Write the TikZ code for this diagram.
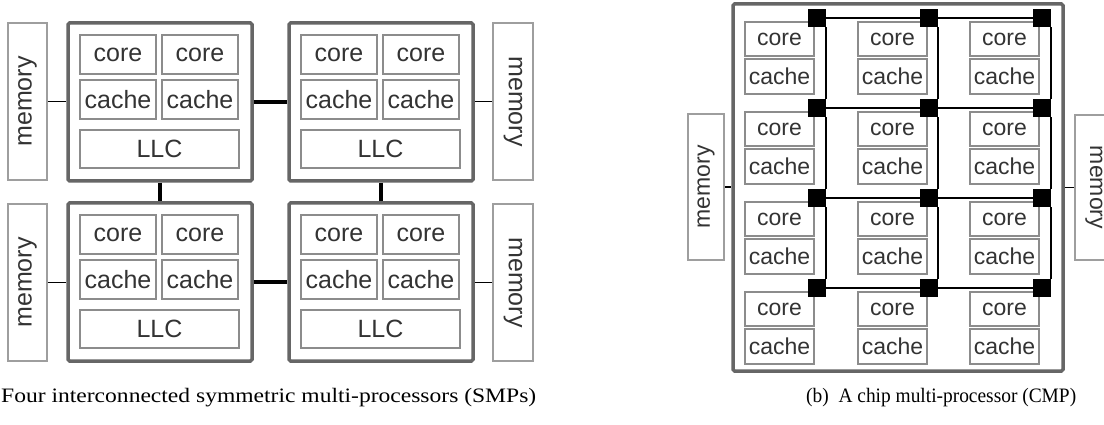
\documentclass[tikz,border=0pt]{standalone}
\usepackage{fontspec}
\setsansfont{Liberation Sans}
\newfontfamily\capfont{Liberation Serif}
\usepackage{graphicx}
\newcommand{\bx}[7]{\node[#1, minimum width={(#4)-(#2)}, minimum height={(#5)-(#3)}] (#7) at ({((#2)+(#4))/2},{((#3)+(#5))/2}) {#6};}
\begin{document}
\begin{tikzpicture}[x=1pt,y=-1pt,
  smp/.style={draw=black!60, line width=3.5pt, rounded corners=1.5pt, fill=white, inner sep=0pt},
  unit/.style={draw=black!45, line width=1.8pt, fill=white, text=black!80, inner sep=0pt,
    font=\sffamily\fontsize{25}{25}\selectfont},
  cunit/.style={unit, font=\sffamily\fontsize{23}{23}\selectfont},
  mem/.style={draw=black!38, line width=1.8pt, fill=white, text=black!80, inner sep=0pt},
  router/.style={fill=black, minimum size=18pt, inner sep=0pt},
  bus/.style={line width=4pt},
  wire/.style={line width=1.8pt},
  captext/.style={anchor=west, inner sep=0pt, font=\capfont\fontsize{20.5}{20.5}\selectfont}
]
\useasboundingbox (0,0) rectangle (1104,425);
\clip (0,0) rectangle (1104,425);

% ---------- (a) four SMPs ----------
\foreach \mx/\my/\n in {0/0/A, 221/0/B, 0/180/C, 221/180/D}{
  \bx{smp}{68+\mx}{23+\my}{252+\mx}{181+\my}{}{smp\n}
  \bx{unit}{80+\mx}{35+\my}{156+\mx}{74+\my}{core}{\n core1}
  \bx{unit}{162+\mx}{35+\my}{238+\mx}{74+\my}{core}{\n core2}
  \bx{unit}{80+\mx}{80+\my}{156+\mx}{119+\my}{cache}{\n cache1}
  \bx{unit}{162+\mx}{80+\my}{238+\mx}{119+\my}{cache}{\n cache2}
  \bx{unit}{80+\mx}{130+\my}{239+\mx}{168+\my}{LLC}{\n llc}
}
\foreach \my/\n in {0/1, 181/2}{
  \bx{mem}{8}{23+\my}{47}{180+\my}{\rotatebox{90}{\sffamily\fontsize{25}{25}\selectfont memory}}{memL\n}
  \bx{mem}{493}{23+\my}{533}{180+\my}{\rotatebox{-90}{\sffamily\fontsize{25}{25}\selectfont memory}}{memR\n}
}
\draw[wire] (memL1.east) -- (memL1.east -| smpA.west);
\draw[wire] (memL2.east) -- (memL2.east -| smpC.west);
\draw[wire] (memR1.west) -- (memR1.west -| smpB.east);
\draw[wire] (memR2.west) -- (memR2.west -| smpD.east);
\draw[bus] (smpA.east) -- (smpB.west);
\draw[bus] (smpC.east) -- (smpD.west);
\draw[bus] (smpA.south) -- (smpC.north);
\draw[bus] (smpB.south) -- (smpD.north);

% ---------- (b) CMP ----------
\bx{smp}{733}{4}{1063}{371}{}{chip}
\foreach \r in {1,2,3,4}{
  \foreach \c/\cx in {1/745, 2/858, 3/970}{
    \bx{cunit}{\cx}{22+90*(\r-1)}{\cx+69}{56+90*(\r-1)}{core}{core\r\c}
    \bx{cunit}{\cx}{59+90*(\r-1)}{\cx+69}{94+90*(\r-1)}{cache}{cache\r\c}
  }
}
\foreach \r in {1,2,3,4}{
  \foreach \c/\rx in {1/817, 2/929, 3/1042}{
    \node[router] (r\r\c) at (\rx,{18+90*(\r-1)}) {};
  }
}
\foreach \r in {1,2,3,4}{
  \draw[wire] (r\r1.east) -- (r\r2.west);
  \draw[wire] (r\r2.east) -- (r\r3.west);
}
\foreach \c in {1,2,3}{
  \draw[wire] (r1\c.south east) -- (r2\c.north east);
  \draw[wire] (r2\c.south east) -- (r3\c.north east);
  \draw[wire] (r3\c.south east) -- (r4\c.north east);
}
\bx{mem}{688}{114}{724}{260}{\rotatebox{90}{\sffamily\fontsize{23}{23}\selectfont memory}}{cmemL}
\bx{mem}{1075}{115}{1113}{260}{\rotatebox{-90}{\sffamily\fontsize{23}{23}\selectfont memory}}{cmemR}
\draw[wire] (cmemL.east) -- (cmemL.east -| chip.west);
\draw[wire] (cmemR.west) -- (cmemR.west -| chip.east);

% ---------- captions ----------
\node[captext] (capa) at (1,398) {\resizebox{535pt}{\height}{Four interconnected symmetric multi-processors (SMPs)}};
\node[captext] (capb) at (806,398) {\resizebox{270pt}{\height}{(b)\enspace A chip multi-processor (CMP)}};
\end{tikzpicture}
\end{document}
